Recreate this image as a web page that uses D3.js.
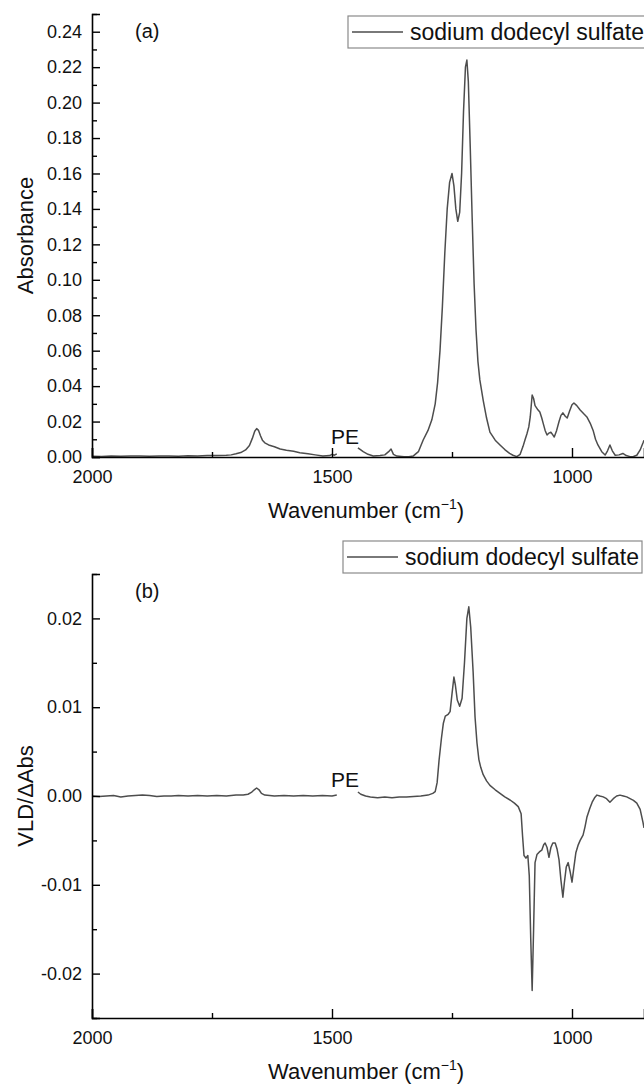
<!DOCTYPE html>
<html>
<head>
<meta charset="utf-8">
<script src="https://cdn.jsdelivr.net/npm/d3@7"></script>
<style>
  html, body { margin: 0; padding: 0; background: #fff; }
  svg { display: block; font-family: "Liberation Sans", Arial, Helvetica, sans-serif; }
</style>
</head>
<body>
<svg id="chart" width="644" height="1086"></svg>
<script>
// ---- Spectrum (a): absorbance; null marks the PE-masked gap ----
const wavenumberA = [
  2000, 1980, 1960, 1940, 1920, 1900, 1880, 1860, 1840, 1820, 1800, 1780, 1760, 1740, 1720, 1710,
  1700, 1690, 1680, 1672, 1666, 1661, 1657, 1653, 1649, 1645, 1640, 1632, 1620, 1608, 1595, 1580,
  1567, 1550, 1535, 1519, 1505, 1500, 1495, 1490, 1468,
  1446, 1440, 1435, 1425, 1414, 1400, 1390, 1382, 1377, 1372, 1365, 1350, 1340, 1331, 1320, 1310,
  1300, 1292, 1285, 1280, 1275, 1270, 1265, 1260, 1255, 1250, 1246, 1242, 1238, 1234, 1230, 1226,
  1222, 1219, 1216, 1212, 1208, 1204, 1200, 1196, 1192, 1185, 1178, 1171, 1160, 1150, 1140, 1130,
  1123, 1115, 1108, 1102, 1098, 1094, 1090, 1087, 1083, 1080, 1077, 1072, 1067, 1063, 1060, 1056,
  1052, 1048, 1044, 1040, 1037, 1032, 1027, 1023, 1019, 1014, 1010, 1005, 1000, 996, 990, 983,
  976, 969, 962, 956, 951, 946, 938, 931, 926, 921, 916, 910, 902, 894, 887, 879,
  872, 865, 858, 852, 850
];
const absorbance = [
  0.0004, 0.0003, 0.0005, 0.0004, 0.0006, 0.0005, 0.0004, 0.0006, 0.0005, 0.0004, 0.0007, 0.0006, 0.0008, 0.0008, 0.0010, 0.0012,
  0.0018, 0.0025, 0.0040, 0.0065, 0.0105, 0.0145, 0.0160, 0.0150, 0.0120, 0.0095, 0.0080, 0.0068, 0.0058, 0.0045, 0.0038, 0.0032,
  0.0024, 0.0018, 0.0012, 0.0006, 0.0008, 0.0015, 0.0010, 0.0018, null,
  0.0052, 0.0040, 0.0030, 0.0015, 0.0006, 0.0008, 0.0012, 0.0030, 0.0045, 0.0015, 0.0005, 0.0002, 0.0001, 0.0005, 0.0030, 0.0096,
  0.0150, 0.0210, 0.0300, 0.0420, 0.0600, 0.0850, 0.1150, 0.1400, 0.1550, 0.1600, 0.1530, 0.1400, 0.1330, 0.1380, 0.1600, 0.1950,
  0.2200, 0.2240, 0.2120, 0.1750, 0.1350, 0.0980, 0.0720, 0.0540, 0.0435, 0.0320, 0.0220, 0.0140, 0.0095, 0.0068, 0.0042, 0.0020,
  0.0010, 0.0002, 0.0015, 0.0060, 0.0096, 0.0130, 0.0170, 0.0226, 0.0350, 0.0330, 0.0290, 0.0270, 0.0254, 0.0220, 0.0190, 0.0150,
  0.0124, 0.0135, 0.0140, 0.0125, 0.0113, 0.0150, 0.0200, 0.0235, 0.0249, 0.0230, 0.0220, 0.0260, 0.0295, 0.0305, 0.0290, 0.0265,
  0.0245, 0.0226, 0.0190, 0.0150, 0.0100, 0.0068, 0.0030, 0.0011, 0.0035, 0.0068, 0.0035, 0.0010, 0.0012, 0.0020, 0.0008, 0.0002,
  0.0003, 0.0010, 0.0040, 0.0080, 0.0095
];

// ---- Spectrum (b): VLD / ΔAbs ----
const wavenumberB = [
  2000, 1985, 1970, 1955, 1940, 1925, 1910, 1895, 1880, 1865, 1850, 1835, 1820, 1800, 1780, 1760,
  1740, 1720, 1700, 1685, 1675, 1668, 1662, 1657, 1652, 1647, 1640, 1620, 1600, 1580, 1560, 1540,
  1520, 1500, 1490, 1468,
  1446, 1440, 1430, 1420, 1405, 1390, 1375, 1360, 1345, 1330, 1315, 1300, 1290, 1285, 1281, 1277,
  1272, 1268, 1264, 1258, 1254, 1250, 1246, 1243, 1239, 1234, 1229, 1224, 1219, 1215, 1211, 1206,
  1202, 1198, 1194, 1190, 1185, 1178, 1171, 1160, 1150, 1140, 1129, 1120, 1112, 1106, 1103, 1100,
  1096, 1092, 1089, 1086, 1083, 1080, 1077, 1073, 1068, 1063, 1059, 1056, 1052, 1048, 1044, 1040,
  1035, 1031, 1027, 1023, 1019, 1016, 1012, 1008, 1004, 1000, 996, 992, 987, 983, 977, 973,
  969, 963, 958, 953, 948, 942, 935, 928, 921, 914, 907, 900, 893, 886, 879, 872,
  865, 858, 852, 850
];
const vld = [
  0.00000, -0.00005, 0.00000, 0.00005, -0.00010, 0.00000, 0.00005, 0.00010, 0.00005, -0.00005, 0.00000, 0.00000, 0.00005, 0.00000, 0.00005, 0.00000,
  0.00005, 0.00000, 0.00010, 0.00010, 0.00020, 0.00040, 0.00070, 0.00090, 0.00070, 0.00030, 0.00010, 0.00000, 0.00005, 0.00000, 0.00005, 0.00000,
  0.00005, 0.00000, 0.00010, null,
  0.00045, 0.00020, 0.00000, -0.00010, -0.00020, -0.00010, -0.00020, -0.00010, -0.00010, -0.00005, 0.00000, 0.00010, 0.00030, 0.00050, 0.00150, 0.00400,
  0.00650, 0.00820, 0.00900, 0.00920, 0.00950, 0.01150, 0.01340, 0.01250, 0.01080, 0.01010, 0.01100, 0.01500, 0.02000, 0.02130, 0.01900, 0.01400,
  0.00890, 0.00600, 0.00410, 0.00320, 0.00240, 0.00170, 0.00120, 0.00070, 0.00030, -0.00010, -0.00045, -0.00080, -0.00120, -0.00200, -0.00450, -0.00670,
  -0.00700, -0.00670, -0.00900, -0.01600, -0.02190, -0.01500, -0.00750, -0.00660, -0.00630, -0.00610, -0.00550, -0.00530, -0.00580, -0.00690, -0.00580, -0.00530,
  -0.00530, -0.00600, -0.00720, -0.00950, -0.01140, -0.00980, -0.00800, -0.00750, -0.00850, -0.00970, -0.00800, -0.00640, -0.00550, -0.00500, -0.00440, -0.00350,
  -0.00240, -0.00140, -0.00070, -0.00020, 0.00010, 0.00000, -0.00010, -0.00030, -0.00070, -0.00030, 0.00000, 0.00010, 0.00000, -0.00010, -0.00030, -0.00050,
  -0.00080, -0.00150, -0.00300, -0.00360
];

// ---- Axis ticks and text ----
const xMajorTicks = [2000, 1500, 1000];
const xMinorTicks = [1750, 1250];
const yMajorTicksA = [0, 0.02, 0.04, 0.06, 0.08, 0.10, 0.12, 0.14, 0.16, 0.18, 0.20, 0.22, 0.24];
const yMinorTicksA = [0.01, 0.03, 0.05, 0.07, 0.09, 0.11, 0.13, 0.15, 0.17, 0.19, 0.21, 0.23, 0.25];
const yMajorTicksB = [-0.02, -0.01, 0, 0.01, 0.02];
const yMinorTicksB = [-0.025, -0.015, -0.005, 0.005, 0.015, 0.025];
const seriesName = "sodium dodecyl sulfate";
const xTitle = "Wavenumber (cm";
const yTitleA = "Absorbance";
const yTitleB = "VLD/ΔAbs";

const svg = d3.select("#chart");
const LINE = "#4d4d4d";
const left = 92, right = 644;

const x = d3.scaleLinear().domain([2000, 850]).range([left, right]);

function drawPanel(cfg) {
  const g = svg.append("g");
  const y = d3.scaleLinear().domain(cfg.yDomain).range([cfg.bottom, cfg.top]);

  // spectrum
  const pts = cfg.wn.map((w, i) => ({ w, v: cfg.vals[i] }));
  const line = d3.line()
    .defined(d => d.v !== null)
    .x(d => x(d.w))
    .y(d => y(d.v));
  g.append("path")
    .datum(pts)
    .attr("fill", "none")
    .attr("stroke", LINE)
    .attr("stroke-width", 1.5)
    .attr("stroke-linejoin", "round")
    .attr("d", line);

  // y axis (inward ticks)
  const yAxis = g.append("g").attr("transform", `translate(${left},0)`);
  yAxis.call(d3.axisLeft(y).tickValues(cfg.yMajor).tickSize(-8).tickPadding(10)
      .tickFormat(d => d.toFixed(2)));
  const yMinor = g.append("g").attr("transform", `translate(${left},0)`);
  yMinor.call(d3.axisLeft(y).tickValues(cfg.yMinor).tickSize(-5).tickFormat(""));
  yMinor.select(".domain").remove();

  // x axis (inward ticks)
  const xAxis = g.append("g").attr("transform", `translate(0,${cfg.bottom})`);
  xAxis.call(d3.axisBottom(x).tickValues(xMajorTicks).tickSize(-9).tickPadding(13)
      .tickFormat(d3.format("d")));
  const xMinor = g.append("g").attr("transform", `translate(0,${cfg.bottom})`);
  xMinor.call(d3.axisBottom(x).tickValues(xMinorTicks).tickSize(-5).tickFormat(""));
  xMinor.select(".domain").remove();

  g.selectAll(".domain").attr("stroke", "#000").attr("stroke-width", 1.6);
  g.selectAll(".tick line").attr("stroke", "#000").attr("stroke-width", 1.4);
  g.selectAll(".tick text").attr("font-size", 18).attr("fill", "#111")
    .attr("font-family", "'Liberation Sans', Arial, sans-serif");

  // x title with superscript
  const xt = g.append("text")
    .attr("x", 366).attr("y", cfg.bottom + 61)
    .attr("text-anchor", "middle").attr("font-size", 22).attr("fill", "#111");
  xt.append("tspan").text(xTitle);
  xt.append("tspan").attr("font-size", 14).attr("dy", -9).text("\u22121");
  xt.append("tspan").attr("dy", 9).text(")");

  // y title
  g.append("text")
    .attr("transform", `translate(33,${(cfg.top + cfg.bottom) / 2}) rotate(-90)`)
    .attr("text-anchor", "middle").attr("font-size", 22).attr("fill", "#111")
    .text(cfg.yTitle);

  // panel tag and PE annotation
  g.append("text").attr("x", 135).attr("y", cfg.tagY)
    .attr("font-size", 20).attr("fill", "#111").text(cfg.tag);
  g.append("text").attr("x", 331).attr("y", cfg.peY)
    .attr("font-size", 21).attr("fill", "#111").text("PE");

  // legend
  const lg = g.append("g").attr("transform", `translate(${cfg.legX},${cfg.legY})`);
  lg.append("rect").attr("x", 0).attr("y", 0).attr("width", 299).attr("height", 32)
    .attr("fill", "#fff").attr("stroke", "#8a8a8a").attr("stroke-width", 1.2);
  lg.append("line").attr("x1", 4).attr("x2", 55).attr("y1", 16).attr("y2", 16)
    .attr("stroke", LINE).attr("stroke-width", 1.5);
  lg.append("text").attr("x", 62).attr("y", 24).attr("font-size", 23).attr("fill", "#111")
    .text(seriesName);
}

drawPanel({
  wn: wavenumberA, vals: absorbance,
  yDomain: [0, 0.25], top: 14, bottom: 457,
  yMajor: yMajorTicksA, yMinor: yMinorTicksA, yTitle: yTitleA,
  tag: "(a)", tagY: 38, peY: 444, legX: 348, legY: 16
});

drawPanel({
  wn: wavenumberB, vals: vld,
  yDomain: [-0.025, 0.025], top: 574, bottom: 1018,
  yMajor: yMajorTicksB, yMinor: yMinorTicksB, yTitle: yTitleB,
  tag: "(b)", tagY: 598, peY: 787, legX: 343, legY: 541
});
</script>
</body>
</html>
